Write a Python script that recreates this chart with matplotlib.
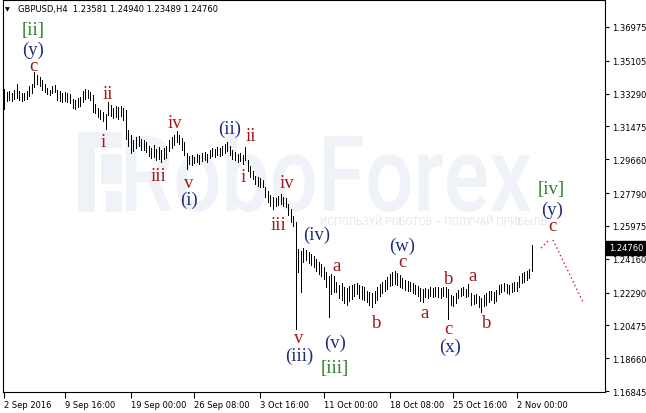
import matplotlib
matplotlib.use('Agg')
import matplotlib.pyplot as plt
from matplotlib.textpath import TextPath
from matplotlib.font_manager import FontProperties
from matplotlib.patches import PathPatch, Rectangle
from matplotlib.transforms import Affine2D, IdentityTransform, blended_transform_factory

# GBPUSD H4 bars, 2 Sep - 3 Nov 2016
highs = [
    1.3355, 1.3340, 1.3344, 1.3335, 1.3350, 1.3382, 1.3345, 1.3335, 1.3330, 1.3342,
    1.3372, 1.3380, 1.3449, 1.3432, 1.3420, 1.3405, 1.3385, 1.3360, 1.3350, 1.3370,
    1.3378, 1.3350, 1.3345, 1.3330, 1.3340, 1.3335, 1.3325, 1.3299, 1.3295, 1.3305,
    1.3310, 1.3344, 1.3355, 1.3350, 1.3340, 1.3320, 1.3270, 1.3250, 1.3240, 1.3230,
    1.3215, 1.3283, 1.3265, 1.3250, 1.3260, 1.3255, 1.3258, 1.3250, 1.3240, 1.3130,
    1.3100, 1.3075, 1.3090, 1.3095, 1.3080, 1.3070, 1.3060, 1.3040, 1.3030, 1.3045,
    1.3025, 1.3035, 1.3020, 1.3030, 1.3040, 1.3070, 1.3090, 1.3100, 1.3122, 1.3100,
    1.3085, 1.3060, 1.3000, 1.2985, 1.2990, 1.2980, 1.2995, 1.2990, 1.3000, 1.3005,
    1.2995, 1.3020, 1.3030, 1.3025, 1.3035, 1.3030, 1.3040, 1.3050, 1.3062, 1.3040,
    1.3020, 1.3005, 1.2995, 1.3000, 1.2990, 1.3034, 1.2960, 1.2930, 1.2900, 1.2875,
    1.2870, 1.2860, 1.2850, 1.2810, 1.2790, 1.2770, 1.2760, 1.2750, 1.2765, 1.2774,
    1.2760, 1.2750, 1.2720, 1.2690, 1.2650, 1.2620, 1.2470, 1.2460, 1.2475, 1.2465,
    1.2455, 1.2440, 1.2430, 1.2415, 1.2400, 1.2385, 1.2370, 1.2343, 1.2320, 1.2332,
    1.2320, 1.2290, 1.2270, 1.2280, 1.2260, 1.2255, 1.2265, 1.2270, 1.2276, 1.2280,
    1.2270, 1.2265, 1.2260, 1.2240, 1.2232, 1.2225, 1.2240, 1.2260, 1.2275, 1.2290,
    1.2300, 1.2315, 1.2330, 1.2340, 1.2348, 1.2335, 1.2325, 1.2310, 1.2300, 1.2295,
    1.2285, 1.2280, 1.2270, 1.2265, 1.2255, 1.2250, 1.2255, 1.2250, 1.2260, 1.2255,
    1.2262, 1.2258, 1.2255, 1.2262, 1.2260, 1.2249, 1.2215, 1.2210, 1.2225, 1.2245,
    1.2255, 1.2260, 1.2250, 1.2276, 1.2225, 1.2215, 1.2220, 1.2210, 1.2200, 1.2215,
    1.2225, 1.2235, 1.2240, 1.2230, 1.2245, 1.2270, 1.2275, 1.2280, 1.2278, 1.2270,
    1.2282, 1.2287, 1.2290, 1.2320, 1.2335, 1.2345, 1.2350, 1.2360, 1.24940,
]
lows = [
    1.3244, 1.3290, 1.3295, 1.3290, 1.3300, 1.3305, 1.3292, 1.3288, 1.3295, 1.3300,
    1.3316, 1.3330, 1.3366, 1.3380, 1.3372, 1.3350, 1.3340, 1.3325, 1.3320, 1.3330,
    1.3338, 1.3295, 1.3290, 1.3283, 1.3290, 1.3280, 1.3275, 1.3250, 1.3244, 1.3255,
    1.3260, 1.3280, 1.3300, 1.3305, 1.3295, 1.3227, 1.3220, 1.3200, 1.3190, 1.3175,
    1.3133, 1.3210, 1.3205, 1.3195, 1.3200, 1.3190, 1.3205, 1.3185, 1.3078, 1.3040,
    1.3000, 1.3010, 1.3030, 1.3040, 1.3020, 1.3015, 1.3006, 1.2985, 1.2975, 1.2980,
    1.2960, 1.2970, 1.2951, 1.2965, 1.2975, 1.3010, 1.3030, 1.3045, 1.3060, 1.3050,
    1.3020, 1.2990, 1.2912, 1.2940, 1.2935, 1.2945, 1.2950, 1.2940, 1.2955, 1.2960,
    1.2950, 1.2975, 1.2985, 1.2980, 1.2990, 1.2985, 1.2990, 1.3000, 1.3010, 1.2990,
    1.2970, 1.2960, 1.2951, 1.2955, 1.2940, 1.2960, 1.2900, 1.2870, 1.2857, 1.2830,
    1.2820, 1.2813, 1.2810, 1.2760, 1.2730, 1.2710, 1.2691, 1.2708, 1.2715, 1.2720,
    1.2710, 1.2700, 1.2660, 1.2620, 1.2597, 1.2027, 1.2343, 1.2232, 1.2400, 1.2410,
    1.2395, 1.2380, 1.2370, 1.2350, 1.2330, 1.2320, 1.2304, 1.2260, 1.2094, 1.2220,
    1.2230, 1.2230, 1.2200, 1.2190, 1.2170, 1.2160, 1.2185, 1.2195, 1.2210, 1.2220,
    1.2200, 1.2195, 1.2190, 1.2175, 1.2160, 1.2149, 1.2170, 1.2190, 1.2210, 1.2225,
    1.2240, 1.2250, 1.2265, 1.2270, 1.2275, 1.2270, 1.2260, 1.2255, 1.2245, 1.2240,
    1.2235, 1.2225, 1.2220, 1.2210, 1.2185, 1.2177, 1.2205, 1.2200, 1.2210, 1.2205,
    1.2210, 1.2204, 1.2200, 1.2210, 1.2205, 1.2083, 1.2160, 1.2155, 1.2170, 1.2200,
    1.2210, 1.2215, 1.2205, 1.2210, 1.2160, 1.2165, 1.2170, 1.2150, 1.2122, 1.2155,
    1.2160, 1.2175, 1.2190, 1.2170, 1.2180, 1.2220, 1.2230, 1.2235, 1.2225, 1.2222,
    1.2230, 1.2235, 1.2240, 1.2260, 1.2280, 1.2290, 1.2300, 1.2310, 1.23489,
]
last_open = 1.23581
last_close = 1.24760

price_ticks = [1.36975, 1.35105, 1.33290, 1.31475, 1.29660, 1.27790,
               1.25975, 1.24160, 1.22290, 1.20475, 1.18660, 1.16845]
date_bars = [0, 24, 50, 75, 101, 126, 152, 177, 202]
date_labels = ['2 Sep 2016', '9 Sep 16:00', '19 Sep 00:00', '26 Sep 08:00',
               '3 Oct 16:00', '11 Oct 00:00', '18 Oct 08:00', '25 Oct 16:00',
               '2 Nov 00:00']

# Elliott wave marks: text, bar, price, degree
wave_text = ['[ii]', '(y)', 'c', 'ii', 'i', 'iv', 'iii', 'v', '(i)', '(ii)',
             'ii', 'i', 'iv', 'iii', '(iv)', 'v', '(iii)', 'a', '(v)', '[iii]',
             'b', '(w)', 'c', 'a', 'b', 'a', 'c', '(x)', 'b', '[iv]', '(y)', 'c']
wave_bar = [11.4, 11.4, 11.4, 41.0, 39.0, 67.4, 60.7, 72.9, 72.9, 88.7,
            97.3, 94.2, 111.5, 108.0, 123.3, 116.2, 116.2, 131.2, 130.4, 130.4,
            147.0, 156.8, 156.8, 165.9, 175.3, 184.8, 175.3, 175.7, 190.3, 215.5, 215.9, 215.9]
wave_price = [1.3686, 1.3576, 1.3482, 1.3327, 1.3067, 1.3167, 1.2874, 1.2835, 1.2746, 1.3139,
              1.3095, 1.2868, 1.2840, 1.2603, 1.2553, 1.1978, 1.1884, 1.2376, 1.1956, 1.1817,
              1.2061, 1.2488, 1.2402, 1.2116, 1.2309, 1.2326, 1.2028, 1.1934, 1.2061, 1.2802, 1.2691, 1.2597]
wave_degree = ['minor', 'minute', 'sub', 'sub', 'sub', 'sub', 'sub', 'sub', 'minute', 'minute',
               'sub', 'sub', 'sub', 'sub', 'minute', 'sub', 'minute', 'sub', 'minute', 'minor',
               'sub', 'minute', 'sub', 'sub', 'sub', 'sub', 'sub', 'minute', 'sub', 'minor', 'minute', 'sub']

# forecast after (y) of [iv]
proj_left_bar = [211.6, 214.7]
proj_left_price = [1.2475, 1.2520]
proj_right_bar = [216.3, 228.1]
proj_right_price = [1.2520, 1.2177]

degree_colors = {'sub': '#a01818', 'minute': '#1f2a80', 'minor': '#2f7f2f'}

W, H = 646, 414
fig = plt.figure(figsize=(W / 100, H / 100), dpi=100)
ax = fig.add_axes([3 / W, (H - 393) / H, (605 - 3) / W, (393 - 1) / H])
ax.set_xlim(-0.4, 236.8)
ax.set_ylim(1.16790, 1.38468)

# watermark
wm = '#eff2f6'
tp = TextPath((0, 0), 'RoboForex', size=100,
              prop=FontProperties(family='Roboto', weight='medium'))
ext = tp.get_extents()
tr = Affine2D().translate(-ext.x0, -ext.y0).scale(405 / ext.width, 80 / ext.height).translate(126, H - 213)
ax.add_patch(PathPatch(tp, transform=tr, facecolor=wm, edgecolor='none', zorder=0.5))
for x0, y0, w, h in [(78, 133, 17, 80), (78, 133, 44, 16), (101, 155, 21, 30), (106, 192, 16, 21)]:
    ax.add_patch(Rectangle((x0, H - y0 - h), w, h, transform=IdentityTransform(),
                           facecolor=wm, edgecolor='none', zorder=0.5))
ax.text(434, H - 222, 'ИСПОЛЬЗУЙ РОБОТОВ – ПОЛУЧАЙ ПРИБЫЛЬ', transform=IdentityTransform(),
        ha='center', va='center', fontsize=7.5, family='Roboto', color='#e4e8ed', zorder=0.6)

# bars
bars = range(len(highs))
ax.vlines(bars, lows, highs, colors='black', lw=0.5, antialiased=False, zorder=2)

# wave labels
for txt, b, p, d in zip(wave_text, wave_bar, wave_price, wave_degree):
    ax.text(b, p, txt, ha='center', va='center', fontsize=13.5,
            family='Liberation Serif', color=degree_colors[d], zorder=3)

ax.plot(proj_left_bar, proj_left_price, color='#dc143c', lw=1, ls=(0, (1, 2)), zorder=3)
ax.plot(proj_right_bar, proj_right_price, color='#dc143c', lw=1, ls=(0, (1, 2)), zorder=3)

# axes look
for s in ax.spines.values():
    s.set_linewidth(0.8)
ax.yaxis.tick_right()
ax.set_yticks(price_ticks)
ax.set_yticklabels([f'{v:.5f}' for v in price_ticks])
ax.set_xticks(date_bars)
ax.set_xticklabels(date_labels)
for lbl in ax.get_xticklabels():
    lbl.set_ha('left')
ax.tick_params(axis='y', direction='out', length=3, width=0.8, pad=2, labelsize=6)
ax.tick_params(axis='x', direction='out', length=4, width=0.8, pad=2, labelsize=6)

# current price tag
bt = blended_transform_factory(ax.transAxes, ax.transData)
ax.text(1.006, last_close, f'{last_close:.5f}', transform=bt, ha='left', va='center',
        fontsize=6, color='white', zorder=5, clip_on=False,
        bbox=dict(boxstyle='square,pad=0.3', facecolor='black', edgecolor='black'))

# header
fig.text(5, H - 10, '▼', transform=IdentityTransform(), fontsize=4.5, va='center')
fig.text(18, H - 10,
         f'GBPUSD,H4  {last_open:.5f} {highs[-1]:.5f} {lows[-1]:.5f} {last_close:.5f}',
         transform=IdentityTransform(), fontsize=6, va='center')

fig.savefig('out.png', dpi=100)
